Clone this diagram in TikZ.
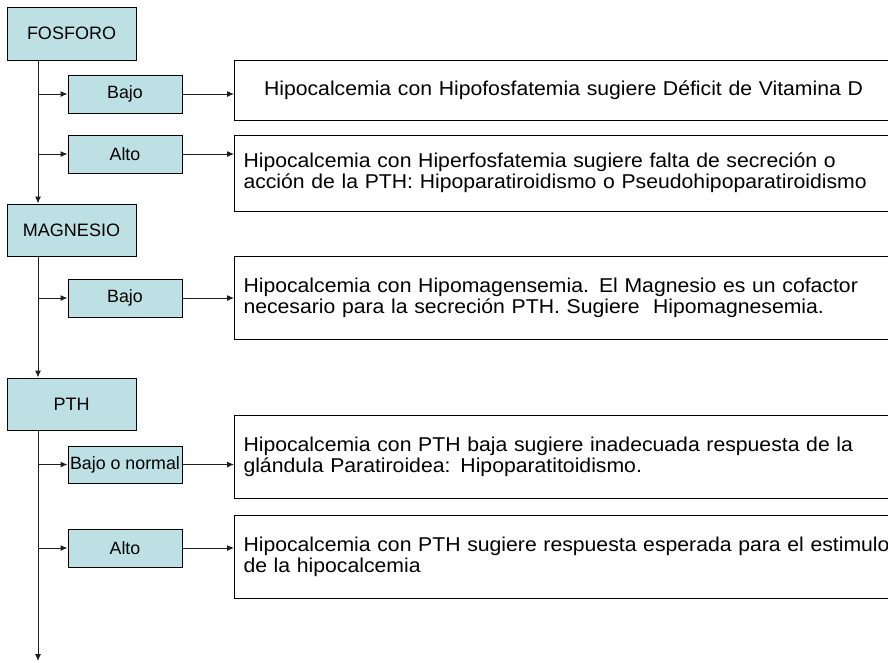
\documentclass[tikz,border=0pt]{standalone}
\usepackage{fontspec}
\setmainfont{Liberation Sans}
\newfontfamily\ancha[FakeStretch=1.06]{Liberation Sans}
\usetikzlibrary{arrows.meta, positioning}
\definecolor{celeste}{RGB}{189,224,228}
\definecolor{linea}{RGB}{30,30,30}

\begin{document}
\begin{tikzpicture}[x=1pt, y=-1pt,
    every node/.style={rectangle, draw=black, line width=1pt, inner sep=0pt, font=\fontsize{18}{20}\selectfont},
    cabeza/.style={fill=celeste, minimum width=129pt, minimum height=53pt},
    rama/.style={fill=celeste, minimum width=114pt, minimum height=38pt, font=\fontsize{17.8}{20}\selectfont},
    texto/.style={anchor=west, inner xsep=9pt, text width=680pt, align=left, font=\ancha\fontsize{20}{21}\selectfont},
    arr/.style={draw=linea, line width=1pt, -{Latex[length=7pt,width=6pt]}}]
    \useasboundingbox (0,0) rectangle (888,662);
    \node[cabeza] (fosforo) at (71.5,33.5) {FOSFORO};
    \node[rama] (bajoA) at (125,94) {Bajo};
    \node[rama] (altoA) at (125,154) {Alto};
    \node[texto, minimum height=60pt, text width=640pt, align=center] (resA) at (234,90) {Hipocalcemia con Hipofosfatemia sugiere Déficit de Vitamina D};
    \node[texto, minimum height=76pt] (resB) at (234,173) {Hipocalcemia con Hiperfosfatemia sugiere falta de secreción o\\acción de la PTH: Hipoparatiroidismo o Pseudohipoparatiroidismo};
    \node[cabeza, minimum height=52pt] (magnesio) at (71.5,230) {MAGNESIO};
    \node[rama] (bajoB) at (125,298) {Bajo};
    \node[texto, minimum height=83pt] (resC) at (234,298) {Hipocalcemia con Hipomagensemia. El Magnesio es un cofactor\\necesario para la secreción PTH. Sugiere\ \ Hipomagnesemia.};
    \node[cabeza, minimum height=52pt] (pth) at (71.5,404) {PTH};
    \node[rama, minimum height=37pt] (bajoC) at (125,464.5) {Bajo o normal};
    \node[texto, minimum height=83pt] (resD) at (234,456.5) {Hipocalcemia con PTH baja sugiere inadecuada respuesta de la\\glándula Paratiroidea: Hipoparatitoidismo.};
    \node[rama] (altoC) at (125,548) {Alto};
    \node[texto, minimum height=83pt] (resE) at (234,556.5) {Hipocalcemia con PTH sugiere respuesta esperada para el estimulo\\de la hipocalcemia};
    \coordinate (eje) at (38,0);
    \coordinate (fin) at (38,661);

    \draw[arr] (fosforo.south -| eje) -- (magnesio.north -| eje);
    \draw[arr] (bajoA.west -| eje) -- (bajoA);
    \draw[arr] (altoA.west -| eje) -- (altoA);
    \draw[arr] (bajoA) -- (bajoA -| resA.west);
    \draw[arr] (altoA) -- (altoA -| resB.west);
    \draw[arr] (magnesio.south -| eje) -- (pth.north -| eje);
    \draw[arr] (bajoB.west -| eje) -- (bajoB);
    \draw[arr] (bajoB) -- (bajoB -| resC.west);
    \draw[arr] (pth.south -| eje) -- (fin);
    \draw[arr] (bajoC.west -| eje) -- (bajoC);
    \draw[arr] (altoC.west -| eje) -- (altoC);
    \draw[arr] (bajoC) -- (bajoC -| resD.west);
    \draw[arr] (altoC) -- (altoC -| resE.west);
\end{tikzpicture}
\end{document}
